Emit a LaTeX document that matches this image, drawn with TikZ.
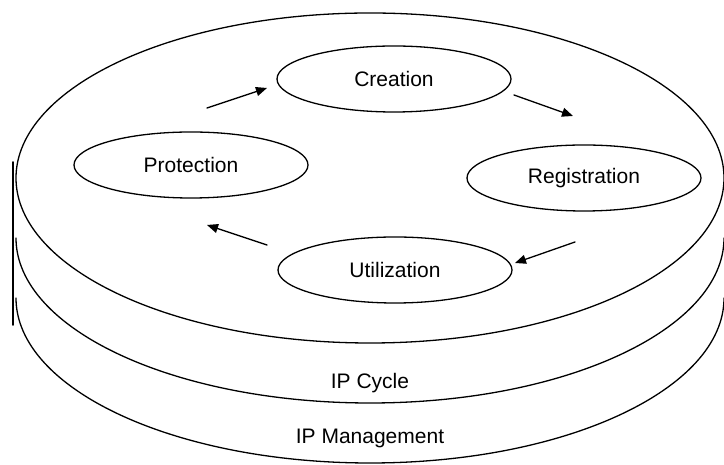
\documentclass[tikz,border=0pt]{standalone}
\usepackage{fontspec}
\setmainfont{Liberation Sans}
\usetikzlibrary{shapes.geometric,arrows.meta}
\begin{document}
\begin{tikzpicture}[x=1pt,y=1pt,>={Triangle[length=11pt,width=9pt]},line join=round,line cap=round,line width=1.3pt,font=\fontsize{21}{25}\selectfont,
	stage/.style={draw,ellipse,minimum width=234pt,minimum height=66pt,inner sep=0pt}]
\useasboundingbox (0,0) rectangle (724,465);
	% the three layers of the disc
	\draw (370,287) ellipse [x radius=354,y radius=165];
	\draw (16,227) arc [start angle=180,end angle=360,x radius=354,y radius=165];
	\draw (16,167) arc [start angle=180,end angle=360,x radius=354,y radius=165];
	\draw[line width=1.6pt] (13,303)--(13,140);
	% the cycle
	\node[stage] (crea) at (394,386) {Creation};
	\node[stage] (regi) at (584,287) {Registration};
	\node[stage] (util) at (395,195) {Utilization};
	\node[stage] (prot) at (191,300) {Protection};
	\coordinate (pc1) at (207,357); \coordinate (pc2) at (267,377);
	\coordinate (cr1) at (514,370); \coordinate (cr2) at (573,349);
	\coordinate (ru1) at (575,223); \coordinate (ru2) at (515,202);
	\coordinate (up1) at (267,220); \coordinate (up2) at (207,240);
	\draw[->] (pc1)--(pc2);
	\draw[->] (cr1)--(cr2);
	\draw[->] (ru1)--(ru2);
	\draw[->] (up1)--(up2);
	\node (cyc) at (370,82) {IP Cycle};
	\node (mgmt) at (370,27) {IP Management};
\end{tikzpicture}
\end{document}
